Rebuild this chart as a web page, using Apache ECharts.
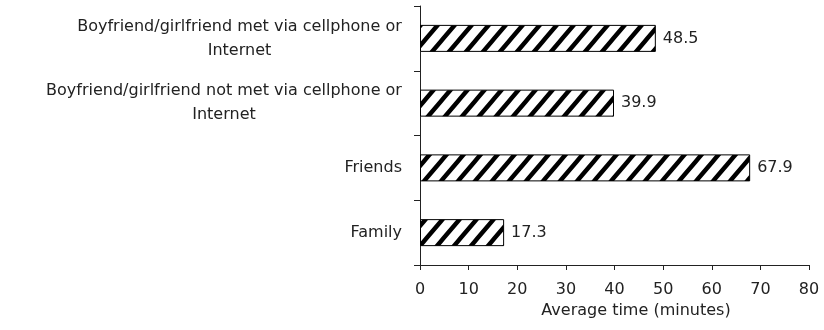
<!DOCTYPE html>
<html>
<head>
<meta charset="utf-8">
<script src="https://cdn.jsdelivr.net/npm/echarts@6/dist/echarts.min.js"></script>
<style>
  html, body { margin: 0; padding: 0; background: #fff; }
  #chart { width: 824px; height: 330px; }
</style>
</head>
<body>
<div id="chart"></div>
<script>
// Average time spent (minutes) by communication partner
const categories = [
  'Boyfriend/girlfriend met via cellphone or\nInternet',
  'Boyfriend/girlfriend not met via cellphone or\nInternet',
  'Friends',
  'Family'
];
const minutes = [48.5, 39.9, 67.9, 17.3];
const xTicks = [0, 10, 20, 30, 40, 50, 60, 70, 80];

const FONT = '"DejaVu Sans", "Open Sans", sans-serif';
const FONT_SIZE = 16;
const TEXT = '#222';

// Diagonal hatch tile for the bars ("/" stripes, a little steeper than 45°)
function hatchTile() {
  const P = 17;   // horizontal stripe period
  const H = 20;   // tile height sets the slope
  const c = document.createElement('canvas');
  c.width = P; c.height = H;
  const g = c.getContext('2d');
  g.fillStyle = '#fff';
  g.fillRect(0, 0, P, H);
  g.strokeStyle = '#000';
  g.lineWidth = 4.4;
  g.beginPath();
  // lines run past the tile edges so the caps never show at the seams
  for (const k of [-2, -1, 0, 1, 2]) {
    g.moveTo(k * P - P, 2 * H);
    g.lineTo(k * P + 2 * P, -H);
  }
  g.stroke();
  return c;
}

// Multi-line labels: centre each line within the widest line
const measureCtx = document.createElement('canvas').getContext('2d');
measureCtx.font = FONT_SIZE + 'px ' + FONT;
const rich = {};
categories.forEach((c, i) => {
  const w = Math.max(...c.split('\n').map(l => measureCtx.measureText(l).width));
  rich['c' + i] = {
    width: Math.ceil(w), align: 'center',
    fontFamily: FONT, fontSize: FONT_SIZE, color: TEXT, lineHeight: 24
  };
});

const chart = echarts.init(document.getElementById('chart'), null, { renderer: 'canvas' });
chart.setOption({
  animation: false,
  backgroundColor: '#fff',
  grid: { left: 420, right: 15, top: 6, bottom: 65, containLabel: false },
  xAxis: {
    type: 'value',
    min: xTicks[0],
    max: xTicks[xTicks.length - 1],
    interval: 10,
    name: 'Average time (minutes)',
    nameLocation: 'middle',
    nameGap: 32,
    nameTextStyle: { fontFamily: FONT, fontSize: FONT_SIZE, color: TEXT, padding: [0, 0, 0, 43] },
    axisLine: { show: true, lineStyle: { color: '#222', width: 1 } },
    axisTick: { show: true, length: 5, lineStyle: { color: '#222' } },
    axisLabel: { fontFamily: FONT, fontSize: FONT_SIZE, color: TEXT, margin: 17 },
    splitLine: { show: false }
  },
  yAxis: {
    type: 'category',
    inverse: true,
    data: categories,
    axisLine: { show: true, lineStyle: { color: '#222', width: 1 } },
    axisTick: { show: true, length: 6, lineStyle: { color: '#222' } },
    axisLabel: {
      margin: 18,
      fontFamily: FONT, fontSize: FONT_SIZE, color: TEXT, lineHeight: 24,
      formatter: (value, idx) => {
        const lines = value.split('\n');
        if (lines.length === 1) return value;
        return lines.map(l => '{c' + idx + '|' + l + '}').join('\n');
      },
      rich: rich
    }
  },
  series: [{
    type: 'bar',
    data: minutes,
    barWidth: 27,
    itemStyle: {
      color: { image: hatchTile(), repeat: 'repeat' },
      borderColor: '#000',
      borderWidth: 1
    },
    label: {
      show: true,
      position: 'right',
      distance: 7,
      fontFamily: FONT,
      fontSize: FONT_SIZE,
      color: TEXT,
      formatter: p => p.value.toFixed(1)
    }
  }]
});
</script>
</body>
</html>
